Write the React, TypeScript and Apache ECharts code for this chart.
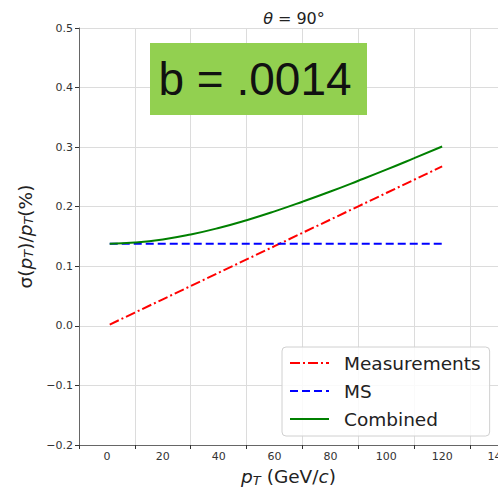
import React, { useEffect, useRef } from "react";
import * as echarts from "echarts";

const pT = [1, 10, 20, 30, 40, 50, 60, 70, 80, 90, 100, 110, 120];
const measurements = [0.0022, 0.0223, 0.0446, 0.0669, 0.0892, 0.1115, 0.1338, 0.1561, 0.1784, 0.2007, 0.223, 0.2453, 0.2676];
const ms = [0.138, 0.138, 0.138, 0.138, 0.138, 0.138, 0.138, 0.138, 0.138, 0.138, 0.138, 0.138, 0.138];
const combined = [0.138, 0.1398, 0.145, 0.1534, 0.1643, 0.1774, 0.1922, 0.2084, 0.2255, 0.2436, 0.2622, 0.2815, 0.3011];
const seriesNames = ["Measurements", "MS", "Combined"];
const boxLabel = "b = .0014";

const fmt = (v: number, d: number) => {
  const s = v.toFixed(d);
  return s.replace("-", "\u2212");
};

export default function App() {
  const ref = useRef<HTMLDivElement>(null);
  useEffect(() => {
    if (!ref.current) return;
    const chart = echarts.init(ref.current, null, { renderer: "svg" });
    const pairs = (ys: number[]) => pT.map((x, i) => [x, ys[i]]);
    const font = "DejaVu Sans";
    const nameRich = {
      i: { fontFamily: font, fontStyle: "italic", fontSize: 18.5, color: "#222", lineHeight: 20 },
      s: { fontFamily: font, fontStyle: "italic", fontSize: 13, color: "#222", lineHeight: 9, verticalAlign: "bottom" },
    };
    chart.setOption({
      animation: false,
      backgroundColor: "#ffffff",
      textStyle: { fontFamily: font },
      title: {
        text: "{i|θ}{e|=}90°",
        left: 289,
        textAlign: "center",
        top: 5,
        textStyle: {
          fontFamily: font,
          fontSize: 16,
          fontWeight: "normal",
          color: "#222",
          rich: {
            i: { fontFamily: font, fontStyle: "italic", fontSize: 16, color: "#222" },
            e: { fontFamily: font, fontSize: 16, color: "#222", padding: [0, 5, 0, 5] },
          },
        },
      },
      grid: { left: 79, right: 0, top: 28, bottom: 44, containLabel: false, outerBoundsMode: "none" },
      xAxis: {
        type: "value",
        min: -10,
        max: 140,
        interval: 20,
        name: "{i|p}{s|T} (GeV/{i|c})",
        nameLocation: "middle",
        nameGap: 21,
        nameTextStyle: { fontFamily: font, fontSize: 18.5, color: "#222", lineHeight: 20, rich: nameRich },
        axisLine: { show: true, onZero: false, lineStyle: { color: "#666", width: 1 } },
        axisTick: { show: true, inside: false, length: 4, lineStyle: { color: "#333", width: 1 } },
        axisLabel: {
          fontSize: 11,
          color: "#333",
          margin: 6,
          customValues: [0, 20, 40, 60, 80, 100, 120, 140],
          formatter: (v: number) => fmt(v, 0),
        },
        splitLine: { show: true, lineStyle: { color: "#dcdcdc", width: 1 } },
        customValues: [0, 20, 40, 60, 80, 100, 120, 140],
      },
      yAxis: {
        type: "value",
        min: -0.2,
        max: 0.5,
        interval: 0.1,
        name: "σ({i|p}{s|T})/{i|p}{s|T}(%)",
        nameLocation: "middle",
        nameRotate: 90,
        nameGap: 44,
        nameTextStyle: { fontFamily: font, fontSize: 18.5, color: "#222", lineHeight: 20, rich: nameRich },
        axisLine: { show: true, onZero: false, lineStyle: { color: "#666", width: 1 } },
        axisTick: { show: true, inside: false, length: 4, lineStyle: { color: "#333", width: 1 } },
        axisLabel: { fontSize: 11, color: "#333", margin: 6, formatter: (v: number) => fmt(v, 1) },
        splitLine: { show: true, lineStyle: { color: "#dcdcdc", width: 1 } },
      },
      legend: {
        orient: "vertical",
        left: 282,
        top: 347,
        padding: [5, 9, 6, 7],
        itemWidth: 39,
        itemHeight: 14,
        itemGap: 6,
        borderColor: "#d0d0d0",
        borderWidth: 1,
        borderRadius: 4,
        backgroundColor: "rgba(255,255,255,0.85)",
        itemStyle: { color: "transparent", borderWidth: 0, opacity: 0 },
        textStyle: { fontFamily: font, fontSize: 18.5, color: "#222", lineHeight: 22, padding: [0, 0, 0, 10] },
        data: seriesNames,
      },
      graphic: [
        {
          type: "rect",
          shape: { x: 150, y: 43, width: 217, height: 72 },
          style: { fill: "#92D050" },
          z: 10,
        },
        {
          type: "text",
          x: 255,
          y: 79,
          style: {
            text: boxLabel,
            fontFamily: "Liberation Sans",
            fontSize: 46,
            fill: "#111",
            textAlign: "center",
            textVerticalAlign: "middle",
          },
          z: 11,
        },
      ],
      series: [
        {
          name: seriesNames[0],
          type: "line",
          data: pairs(measurements),
          symbol: "none",
          lineStyle: { color: "#ff0000", width: 2, type: [10, 3, 2, 3] },
          itemStyle: { color: "#ff0000" },
          z: 3,
        },
        {
          name: seriesNames[1],
          type: "line",
          data: pairs(ms),
          symbol: "none",
          lineStyle: { color: "#0000ff", width: 2, type: [8, 4] },
          itemStyle: { color: "#0000ff" },
          z: 3,
        },
        {
          name: seriesNames[2],
          type: "line",
          data: pairs(combined),
          smooth: true,
          symbol: "none",
          lineStyle: { color: "#008000", width: 2 },
          itemStyle: { color: "#008000" },
          z: 4,
        },
      ],
    });
    return () => chart.dispose();
  }, []);
  return (
    <div
      ref={ref}
      style={{ position: "fixed", left: 0, top: 0, width: 498, height: 489 }}
    />
  );
}
